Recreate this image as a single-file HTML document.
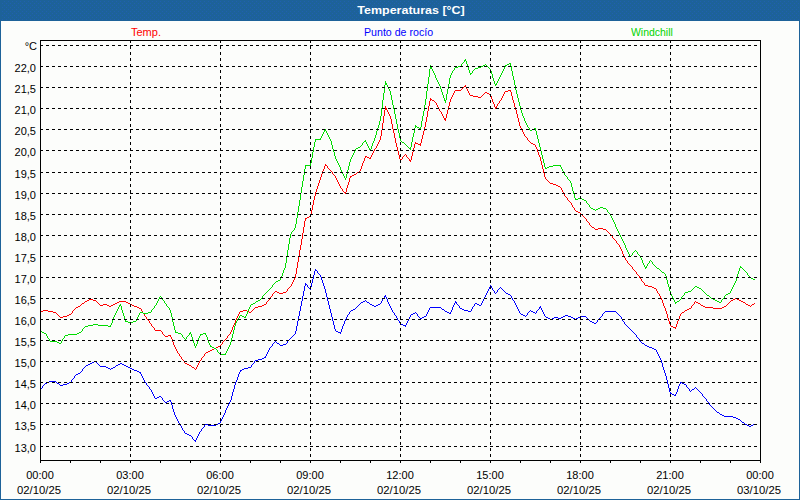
<!DOCTYPE html>
<html><head><meta charset="utf-8"><title>Temperaturas</title>
<style>
html,body{margin:0;padding:0;background:#fff;overflow:hidden;}
body{width:800px;height:500px;overflow:hidden;position:relative;font-family:"Liberation Sans",sans-serif;}
#frame{position:absolute;left:0;top:0;width:800px;height:500px;box-sizing:border-box;background:#fcfdfb;}
#hdr{position:absolute;left:0;top:0;width:800px;height:21px;background:#1d6299;}
#bl{position:absolute;left:0;top:0;width:1px;height:500px;background:#1d6299;}
#br{position:absolute;right:0;top:0;width:1px;height:500px;background:#1d6299;}
#bb{position:absolute;left:0;bottom:0;width:800px;height:1px;background:#1d6299;}
#title{position:absolute;left:111px;top:4px;width:600px;text-align:center;transform:scaleX(1.135);transform-origin:300px 0;color:#fff;font-weight:bold;font-size:11px;line-height:13px;white-space:nowrap;}
.lg{position:absolute;top:26px;font-size:11px;line-height:12px;white-space:nowrap;transform-origin:0 0;}
.yl{position:absolute;left:0;width:37px;text-align:right;font-size:11px;line-height:12px;color:#000;white-space:nowrap;}
.xl{position:absolute;width:80px;text-align:center;font-size:11px;line-height:12px;color:#000;white-space:nowrap;}
svg{position:absolute;left:0;top:0;}
</style></head><body>
<div id="frame"></div><div id="hdr"><svg width="800" height="21" shape-rendering="crispEdges"><defs><pattern id="dz" width="4" height="4" patternUnits="userSpaceOnUse"><rect x="0" y="1" width="1" height="1" fill="#2060b0"/><rect x="2" y="3" width="1" height="1" fill="#2060b0"/></pattern></defs><rect width="800" height="21" fill="url(#dz)"/></svg></div><div id="bl"></div><div id="br"></div><div id="bb"></div>
<div id="title">Temperaturas [°C]</div>
<div class="lg" style="left:131px;color:#ff0000">Temp.</div>
<div class="lg" style="left:364px;color:#0000ff;transform:scaleX(0.965)">Punto de rocío</div>
<div class="lg" style="left:631px;color:#00d400;transform:scaleX(0.95)">Windchill</div>
<div class="yl" style="top:40px">°C</div>
<div class="yl" style="top:62px;width:36px">22,0</div>
<div class="yl" style="top:83px;width:36px">21,5</div>
<div class="yl" style="top:104px;width:36px">21,0</div>
<div class="yl" style="top:125px;width:36px">20,5</div>
<div class="yl" style="top:146px;width:36px">20,0</div>
<div class="yl" style="top:168px;width:36px">19,5</div>
<div class="yl" style="top:189px;width:36px">19,0</div>
<div class="yl" style="top:210px;width:36px">18,5</div>
<div class="yl" style="top:231px;width:36px">18,0</div>
<div class="yl" style="top:252px;width:36px">17,5</div>
<div class="yl" style="top:273px;width:36px">17,0</div>
<div class="yl" style="top:294px;width:36px">16,5</div>
<div class="yl" style="top:315px;width:36px">16,0</div>
<div class="yl" style="top:336px;width:36px">15,5</div>
<div class="yl" style="top:357px;width:36px">15,0</div>
<div class="yl" style="top:378px;width:36px">14,5</div>
<div class="yl" style="top:399px;width:36px">14,0</div>
<div class="yl" style="top:420px;width:36px">13,5</div>
<div class="yl" style="top:442px;width:36px">13,0</div>
<div class="xl" style="left:0px;top:469px">00:00</div><div class="xl" style="left:-1px;top:484px;transform:scaleX(1.025)">02/10/25</div>
<div class="xl" style="left:90px;top:469px">03:00</div><div class="xl" style="left:89px;top:484px;transform:scaleX(1.025)">02/10/25</div>
<div class="xl" style="left:180px;top:469px">06:00</div><div class="xl" style="left:179px;top:484px;transform:scaleX(1.025)">02/10/25</div>
<div class="xl" style="left:270px;top:469px">09:00</div><div class="xl" style="left:269px;top:484px;transform:scaleX(1.025)">02/10/25</div>
<div class="xl" style="left:360px;top:469px">12:00</div><div class="xl" style="left:359px;top:484px;transform:scaleX(1.025)">02/10/25</div>
<div class="xl" style="left:450px;top:469px">15:00</div><div class="xl" style="left:449px;top:484px;transform:scaleX(1.025)">02/10/25</div>
<div class="xl" style="left:540px;top:469px">18:00</div><div class="xl" style="left:539px;top:484px;transform:scaleX(1.025)">02/10/25</div>
<div class="xl" style="left:630px;top:469px">21:00</div><div class="xl" style="left:629px;top:484px;transform:scaleX(1.025)">02/10/25</div>
<div class="xl" style="left:720px;top:469px">00:00</div><div class="xl" style="left:719px;top:484px;transform:scaleX(1.025)">03/10/25</div>
<svg width="800" height="500" viewBox="0 0 800 500" shape-rendering="crispEdges">
<path d="M40 311h1v1h-1zM41 311h1v1h-1zM42 311h1v1h-1zM43 310h1v1h-1zM44 310h1v1h-1zM45 310h1v1h-1zM46 310h1v1h-1zM47 310h1v1h-1zM48 311h1v1h-1zM49 311h1v1h-1zM50 311h1v1h-1zM51 311h1v1h-1zM52 311h1v1h-1zM53 312h1v1h-1zM54 312h1v1h-1zM55 312h1v1h-1zM56 313h1v1h-1zM57 314h1v1h-1zM58 315h1v1h-1zM59 316h1v1h-1zM60 317h1v1h-1zM61 317h1v1h-1zM62 317h1v1h-1zM63 316h1v1h-1zM64 316h1v1h-1zM65 316h1v1h-1zM66 316h1v1h-1zM67 315h1v1h-1zM68 315h1v1h-1zM69 314h1v1h-1zM70 314h1v1h-1zM71 313h1v1h-1zM72 311h1v2h-1zM73 310h1v1h-1zM74 309h1v1h-1zM75 308h1v1h-1zM76 307h1v1h-1zM77 307h1v1h-1zM78 306h1v1h-1zM79 306h1v1h-1zM80 305h1v1h-1zM81 304h1v1h-1zM82 303h1v1h-1zM83 303h1v1h-1zM84 302h1v1h-1zM85 301h1v1h-1zM86 301h1v1h-1zM87 300h1v1h-1zM88 300h1v1h-1zM89 299h1v1h-1zM90 299h1v1h-1zM91 299h1v1h-1zM92 299h1v1h-1zM93 300h1v1h-1zM94 300h1v1h-1zM95 300h1v1h-1zM96 301h1v1h-1zM97 302h1v1h-1zM98 303h1v1h-1zM99 304h1v1h-1zM100 305h1v1h-1zM101 305h1v1h-1zM102 305h1v1h-1zM103 304h1v1h-1zM104 304h1v1h-1zM105 304h1v1h-1zM106 304h1v1h-1zM107 305h1v1h-1zM108 305h1v1h-1zM109 306h1v1h-1zM110 306h1v1h-1zM111 305h1v1h-1zM112 305h1v1h-1zM113 304h1v1h-1zM114 304h1v1h-1zM115 303h1v1h-1zM116 303h1v1h-1zM117 302h1v1h-1zM118 302h1v1h-1zM119 301h1v1h-1zM120 301h1v1h-1zM121 301h1v1h-1zM122 301h1v1h-1zM123 301h1v1h-1zM124 301h1v1h-1zM125 301h1v1h-1zM126 302h1v1h-1zM127 302h1v1h-1zM128 303h1v1h-1zM129 303h1v1h-1zM130 304h1v1h-1zM131 304h1v1h-1zM132 305h1v1h-1zM133 305h1v1h-1zM134 306h1v1h-1zM135 306h1v1h-1zM136 306h1v1h-1zM137 307h1v1h-1zM138 307h1v1h-1zM139 308h1v1h-1zM140 308h1v1h-1zM141 309h1v2h-1zM142 311h1v2h-1zM143 313h1v1h-1zM144 314h1v2h-1zM145 316h1v1h-1zM146 317h1v2h-1zM147 319h1v1h-1zM148 320h1v1h-1zM149 321h1v2h-1zM150 323h1v1h-1zM151 324h1v2h-1zM152 326h1v1h-1zM153 327h1v1h-1zM154 328h1v2h-1zM155 330h1v1h-1zM156 330h1v1h-1zM157 330h1v1h-1zM158 330h1v1h-1zM159 330h1v1h-1zM160 330h1v1h-1zM161 331h1v1h-1zM162 332h1v2h-1zM163 334h1v1h-1zM164 335h1v1h-1zM165 336h1v1h-1zM166 336h1v1h-1zM167 336h1v1h-1zM168 335h1v1h-1zM169 335h1v1h-1zM170 335h1v2h-1zM171 337h1v2h-1zM172 339h1v3h-1zM173 342h1v3h-1zM174 345h1v2h-1zM175 347h1v2h-1zM176 349h1v2h-1zM177 351h1v2h-1zM178 353h1v1h-1zM179 354h1v2h-1zM180 356h1v1h-1zM181 357h1v2h-1zM182 359h1v1h-1zM183 360h1v1h-1zM184 361h1v2h-1zM185 363h1v1h-1zM186 363h1v1h-1zM187 364h1v1h-1zM188 364h1v1h-1zM189 365h1v1h-1zM190 365h1v1h-1zM191 366h1v1h-1zM192 367h1v1h-1zM193 367h1v1h-1zM194 368h1v1h-1zM195 369h1v1h-1zM196 367h1v2h-1zM197 365h1v2h-1zM198 363h1v2h-1zM199 361h1v2h-1zM200 360h1v1h-1zM201 358h1v2h-1zM202 357h1v1h-1zM203 356h1v1h-1zM204 354h1v2h-1zM205 353h1v1h-1zM206 352h1v1h-1zM207 352h1v1h-1zM208 351h1v1h-1zM209 351h1v1h-1zM210 350h1v1h-1zM211 350h1v1h-1zM212 349h1v1h-1zM213 349h1v1h-1zM214 348h1v1h-1zM215 348h1v1h-1zM216 347h1v1h-1zM217 347h1v1h-1zM218 346h1v1h-1zM219 346h1v1h-1zM220 345h1v1h-1zM221 344h1v1h-1zM222 342h1v2h-1zM223 341h1v1h-1zM224 340h1v1h-1zM225 339h1v1h-1zM226 338h1v1h-1zM227 336h1v2h-1zM228 335h1v1h-1zM229 334h1v1h-1zM230 332h1v2h-1zM231 330h1v2h-1zM232 327h1v3h-1zM233 325h1v2h-1zM234 323h1v2h-1zM235 320h1v3h-1zM236 318h1v2h-1zM237 316h1v2h-1zM238 314h1v2h-1zM239 312h1v2h-1zM240 311h1v1h-1zM241 311h1v1h-1zM242 311h1v1h-1zM243 310h1v1h-1zM244 310h1v1h-1zM245 310h1v1h-1zM246 310h1v1h-1zM247 311h1v1h-1zM248 311h1v1h-1zM249 312h1v1h-1zM250 312h1v1h-1zM251 311h1v1h-1zM252 310h1v1h-1zM253 309h1v1h-1zM254 308h1v1h-1zM255 307h1v1h-1zM256 307h1v1h-1zM257 307h1v1h-1zM258 306h1v1h-1zM259 306h1v1h-1zM260 306h1v1h-1zM261 306h1v1h-1zM262 305h1v1h-1zM263 305h1v1h-1zM264 304h1v1h-1zM265 304h1v1h-1zM266 302h1v2h-1zM267 301h1v1h-1zM268 300h1v1h-1zM269 298h1v2h-1zM270 297h1v1h-1zM271 296h1v1h-1zM272 294h1v2h-1zM273 293h1v1h-1zM274 292h1v1h-1zM275 291h1v1h-1zM276 291h1v1h-1zM277 292h1v1h-1zM278 292h1v1h-1zM279 293h1v1h-1zM280 293h1v1h-1zM281 293h1v1h-1zM282 293h1v1h-1zM283 292h1v1h-1zM284 292h1v1h-1zM285 292h1v1h-1zM286 291h1v1h-1zM287 289h1v2h-1zM288 288h1v1h-1zM289 287h1v1h-1zM290 286h1v1h-1zM291 284h1v2h-1zM292 282h1v2h-1zM293 280h1v2h-1zM294 278h1v2h-1zM295 274h1v4h-1zM296 268h1v6h-1zM297 262h1v6h-1zM298 256h1v6h-1zM299 250h1v6h-1zM300 245h1v5h-1zM301 239h1v6h-1zM302 233h1v6h-1zM303 227h1v6h-1zM304 221h1v6h-1zM305 218h1v3h-1zM306 218h1v1h-1zM307 217h1v1h-1zM308 217h1v1h-1zM309 216h1v1h-1zM310 214h1v3h-1zM311 210h1v4h-1zM312 205h1v5h-1zM313 200h1v5h-1zM314 196h1v4h-1zM315 192h1v4h-1zM316 189h1v3h-1zM317 186h1v3h-1zM318 183h1v3h-1zM319 180h1v3h-1zM320 177h1v3h-1zM321 174h1v3h-1zM322 171h1v3h-1zM323 169h1v2h-1zM324 166h1v3h-1zM325 164h1v2h-1zM326 165h1v1h-1zM327 166h1v2h-1zM328 168h1v1h-1zM329 169h1v1h-1zM330 170h1v1h-1zM331 171h1v1h-1zM332 172h1v2h-1zM333 174h1v1h-1zM334 175h1v1h-1zM335 176h1v2h-1zM336 178h1v2h-1zM337 180h1v2h-1zM338 182h1v2h-1zM339 184h1v2h-1zM340 186h1v2h-1zM341 188h1v1h-1zM342 189h1v2h-1zM343 191h1v1h-1zM344 192h1v1h-1zM345 192h1v2h-1zM346 188h1v4h-1zM347 185h1v3h-1zM348 182h1v3h-1zM349 178h1v4h-1zM350 176h1v2h-1zM351 176h1v1h-1zM352 175h1v1h-1zM353 175h1v1h-1zM354 174h1v1h-1zM355 174h1v1h-1zM356 173h1v1h-1zM357 172h1v1h-1zM358 172h1v1h-1zM359 171h1v1h-1zM360 169h1v2h-1zM361 166h1v3h-1zM362 163h1v3h-1zM363 161h1v2h-1zM364 158h1v3h-1zM365 156h1v2h-1zM366 156h1v1h-1zM367 157h1v1h-1zM368 157h1v1h-1zM369 158h1v1h-1zM370 157h1v2h-1zM371 155h1v2h-1zM372 153h1v2h-1zM373 151h1v2h-1zM374 149h1v2h-1zM375 148h1v1h-1zM376 146h1v2h-1zM377 144h1v2h-1zM378 142h1v2h-1zM379 140h1v2h-1zM380 136h1v4h-1zM381 130h1v6h-1zM382 123h1v7h-1zM383 116h1v7h-1zM384 110h1v6h-1zM385 106h1v4h-1zM386 108h1v2h-1zM387 110h1v2h-1zM388 112h1v2h-1zM389 114h1v2h-1zM390 116h1v3h-1zM391 119h1v5h-1zM392 124h1v5h-1zM393 129h1v4h-1zM394 133h1v5h-1zM395 138h1v5h-1zM396 143h1v4h-1zM397 147h1v4h-1zM398 151h1v4h-1zM399 155h1v4h-1zM400 159h1v2h-1zM401 159h1v1h-1zM402 157h1v2h-1zM403 156h1v1h-1zM404 155h1v1h-1zM405 154h1v1h-1zM406 155h1v2h-1zM407 157h1v1h-1zM408 158h1v1h-1zM409 159h1v2h-1zM410 160h1v2h-1zM411 156h1v4h-1zM412 152h1v4h-1zM413 148h1v4h-1zM414 144h1v4h-1zM415 142h1v2h-1zM416 143h1v1h-1zM417 143h1v1h-1zM418 144h1v1h-1zM419 144h1v1h-1zM420 143h1v3h-1zM421 139h1v4h-1zM422 135h1v4h-1zM423 131h1v4h-1zM424 127h1v4h-1zM425 122h1v5h-1zM426 117h1v5h-1zM427 111h1v6h-1zM428 106h1v5h-1zM429 101h1v5h-1zM430 98h1v3h-1zM431 99h1v1h-1zM432 100h1v1h-1zM433 100h1v1h-1zM434 101h1v1h-1zM435 102h1v1h-1zM436 103h1v2h-1zM437 105h1v2h-1zM438 107h1v2h-1zM439 109h1v2h-1zM440 111h1v1h-1zM441 112h1v2h-1zM442 114h1v2h-1zM443 116h1v2h-1zM444 118h1v2h-1zM445 118h1v3h-1zM446 114h1v4h-1zM447 110h1v4h-1zM448 106h1v4h-1zM449 102h1v4h-1zM450 99h1v3h-1zM451 97h1v2h-1zM452 95h1v2h-1zM453 93h1v2h-1zM454 91h1v2h-1zM455 90h1v1h-1zM456 90h1v1h-1zM457 90h1v1h-1zM458 90h1v1h-1zM459 90h1v1h-1zM460 90h1v1h-1zM461 89h1v1h-1zM462 88h1v1h-1zM463 87h1v1h-1zM464 86h1v1h-1zM465 85h1v2h-1zM466 87h1v2h-1zM467 89h1v2h-1zM468 91h1v2h-1zM469 93h1v2h-1zM470 95h1v1h-1zM471 95h1v1h-1zM472 95h1v1h-1zM473 96h1v1h-1zM474 96h1v1h-1zM475 96h1v1h-1zM476 96h1v1h-1zM477 96h1v1h-1zM478 97h1v1h-1zM479 97h1v1h-1zM480 97h1v1h-1zM481 96h1v1h-1zM482 95h1v1h-1zM483 94h1v1h-1zM484 93h1v1h-1zM485 92h1v1h-1zM486 92h1v1h-1zM487 93h1v1h-1zM488 93h1v1h-1zM489 94h1v1h-1zM490 94h1v2h-1zM491 96h1v3h-1zM492 99h1v3h-1zM493 102h1v2h-1zM494 104h1v3h-1zM495 107h1v2h-1zM496 106h1v2h-1zM497 104h1v2h-1zM498 103h1v1h-1zM499 101h1v2h-1zM500 100h1v1h-1zM501 98h1v2h-1zM502 96h1v2h-1zM503 94h1v2h-1zM504 92h1v2h-1zM505 91h1v1h-1zM506 91h1v1h-1zM507 91h1v1h-1zM508 90h1v1h-1zM509 90h1v1h-1zM510 90h1v2h-1zM511 92h1v4h-1zM512 96h1v4h-1zM513 100h1v3h-1zM514 103h1v4h-1zM515 107h1v3h-1zM516 110h1v4h-1zM517 114h1v4h-1zM518 118h1v4h-1zM519 122h1v4h-1zM520 126h1v2h-1zM521 128h1v2h-1zM522 130h1v2h-1zM523 132h1v2h-1zM524 134h1v2h-1zM525 136h1v1h-1zM526 137h1v1h-1zM527 138h1v2h-1zM528 140h1v1h-1zM529 141h1v1h-1zM530 142h1v1h-1zM531 143h1v1h-1zM532 143h1v1h-1zM533 144h1v1h-1zM534 144h1v1h-1zM535 145h1v2h-1zM536 147h1v2h-1zM537 149h1v3h-1zM538 152h1v3h-1zM539 155h1v2h-1zM540 157h1v4h-1zM541 161h1v4h-1zM542 165h1v4h-1zM543 169h1v4h-1zM544 173h1v4h-1zM545 177h1v2h-1zM546 179h1v1h-1zM547 180h1v1h-1zM548 181h1v1h-1zM549 182h1v1h-1zM550 183h1v1h-1zM551 183h1v1h-1zM552 183h1v1h-1zM553 184h1v1h-1zM554 184h1v1h-1zM555 184h1v1h-1zM556 185h1v1h-1zM557 185h1v1h-1zM558 186h1v1h-1zM559 186h1v1h-1zM560 187h1v1h-1zM561 188h1v2h-1zM562 190h1v2h-1zM563 192h1v2h-1zM564 194h1v2h-1zM565 196h1v1h-1zM566 197h1v1h-1zM567 198h1v2h-1zM568 200h1v1h-1zM569 201h1v1h-1zM570 202h1v1h-1zM571 203h1v2h-1zM572 205h1v2h-1zM573 207h1v1h-1zM574 208h1v2h-1zM575 210h1v1h-1zM576 211h1v1h-1zM577 211h1v1h-1zM578 212h1v1h-1zM579 212h1v1h-1zM580 213h1v1h-1zM581 214h1v1h-1zM582 215h1v1h-1zM583 216h1v1h-1zM584 217h1v1h-1zM585 218h1v1h-1zM586 219h1v2h-1zM587 221h1v1h-1zM588 222h1v1h-1zM589 223h1v2h-1zM590 225h1v1h-1zM591 226h1v1h-1zM592 227h1v1h-1zM593 227h1v1h-1zM594 228h1v1h-1zM595 229h1v1h-1zM596 229h1v1h-1zM597 229h1v1h-1zM598 228h1v1h-1zM599 228h1v1h-1zM600 228h1v1h-1zM601 228h1v1h-1zM602 228h1v1h-1zM603 229h1v1h-1zM604 229h1v1h-1zM605 229h1v1h-1zM606 230h1v1h-1zM607 231h1v1h-1zM608 232h1v1h-1zM609 233h1v1h-1zM610 234h1v1h-1zM611 235h1v1h-1zM612 236h1v2h-1zM613 238h1v1h-1zM614 239h1v1h-1zM615 240h1v1h-1zM616 241h1v2h-1zM617 243h1v1h-1zM618 244h1v1h-1zM619 245h1v2h-1zM620 247h1v2h-1zM621 249h1v2h-1zM622 251h1v3h-1zM623 254h1v2h-1zM624 256h1v2h-1zM625 258h1v2h-1zM626 260h1v1h-1zM627 261h1v2h-1zM628 263h1v1h-1zM629 264h1v1h-1zM630 265h1v1h-1zM631 266h1v1h-1zM632 267h1v2h-1zM633 269h1v1h-1zM634 270h1v1h-1zM635 271h1v1h-1zM636 272h1v2h-1zM637 274h1v1h-1zM638 275h1v1h-1zM639 276h1v2h-1zM640 278h1v1h-1zM641 279h1v2h-1zM642 281h1v1h-1zM643 282h1v1h-1zM644 283h1v2h-1zM645 285h1v1h-1zM646 285h1v1h-1zM647 285h1v1h-1zM648 286h1v1h-1zM649 286h1v1h-1zM650 286h1v1h-1zM651 286h1v1h-1zM652 287h1v1h-1zM653 287h1v1h-1zM654 288h1v1h-1zM655 288h1v1h-1zM656 289h1v2h-1zM657 291h1v2h-1zM658 293h1v1h-1zM659 294h1v2h-1zM660 296h1v2h-1zM661 298h1v2h-1zM662 300h1v3h-1zM663 303h1v3h-1zM664 306h1v2h-1zM665 308h1v3h-1zM666 311h1v3h-1zM667 314h1v4h-1zM668 318h1v3h-1zM669 321h1v3h-1zM670 324h1v2h-1zM671 326h1v1h-1zM672 326h1v1h-1zM673 327h1v1h-1zM674 327h1v1h-1zM675 327h1v2h-1zM676 324h1v3h-1zM677 321h1v3h-1zM678 319h1v2h-1zM679 316h1v3h-1zM680 314h1v2h-1zM681 313h1v1h-1zM682 312h1v1h-1zM683 312h1v1h-1zM684 311h1v1h-1zM685 310h1v1h-1zM686 310h1v1h-1zM687 309h1v1h-1zM688 309h1v1h-1zM689 308h1v1h-1zM690 308h1v1h-1zM691 306h1v2h-1zM692 305h1v1h-1zM693 304h1v1h-1zM694 302h1v2h-1zM695 301h1v1h-1zM696 302h1v1h-1zM697 302h1v1h-1zM698 303h1v1h-1zM699 303h1v1h-1zM700 304h1v1h-1zM701 305h1v1h-1zM702 305h1v1h-1zM703 306h1v1h-1zM704 306h1v1h-1zM705 307h1v1h-1zM706 307h1v1h-1zM707 307h1v1h-1zM708 307h1v1h-1zM709 307h1v1h-1zM710 307h1v1h-1zM711 307h1v1h-1zM712 307h1v1h-1zM713 308h1v1h-1zM714 308h1v1h-1zM715 308h1v1h-1zM716 308h1v1h-1zM717 308h1v1h-1zM718 308h1v1h-1zM719 308h1v1h-1zM720 308h1v1h-1zM721 308h1v1h-1zM722 307h1v1h-1zM723 307h1v1h-1zM724 306h1v1h-1zM725 306h1v1h-1zM726 305h1v1h-1zM727 304h1v1h-1zM728 303h1v1h-1zM729 302h1v1h-1zM730 301h1v1h-1zM731 300h1v1h-1zM732 300h1v1h-1zM733 299h1v1h-1zM734 299h1v1h-1zM735 298h1v1h-1zM736 298h1v1h-1zM737 299h1v1h-1zM738 299h1v1h-1zM739 300h1v1h-1zM740 300h1v1h-1zM741 301h1v1h-1zM742 301h1v1h-1zM743 302h1v1h-1zM744 302h1v1h-1zM745 303h1v1h-1zM746 304h1v1h-1zM747 304h1v1h-1zM748 305h1v1h-1zM749 305h1v1h-1zM750 306h1v1h-1zM751 305h1v1h-1zM752 304h1v1h-1zM753 304h1v1h-1zM754 303h1v1h-1z" fill="#ff0000"/>
<path d="M40 389h1v1h-1zM41 388h1v1h-1zM42 386h1v2h-1zM43 385h1v1h-1zM44 384h1v1h-1zM45 383h1v1h-1zM46 383h1v1h-1zM47 382h1v1h-1zM48 382h1v1h-1zM49 381h1v1h-1zM50 381h1v1h-1zM51 381h1v1h-1zM52 381h1v1h-1zM53 381h1v1h-1zM54 381h1v1h-1zM55 381h1v1h-1zM56 382h1v1h-1zM57 383h1v1h-1zM58 383h1v1h-1zM59 384h1v1h-1zM60 385h1v1h-1zM61 385h1v1h-1zM62 385h1v1h-1zM63 384h1v1h-1zM64 384h1v1h-1zM65 384h1v1h-1zM66 384h1v1h-1zM67 383h1v1h-1zM68 383h1v1h-1zM69 382h1v1h-1zM70 382h1v1h-1zM71 380h1v2h-1zM72 379h1v1h-1zM73 378h1v1h-1zM74 376h1v2h-1zM75 375h1v1h-1zM76 374h1v1h-1zM77 374h1v1h-1zM78 373h1v1h-1zM79 373h1v1h-1zM80 372h1v1h-1zM81 371h1v1h-1zM82 369h1v2h-1zM83 368h1v1h-1zM84 367h1v1h-1zM85 366h1v1h-1zM86 365h1v1h-1zM87 365h1v1h-1zM88 364h1v1h-1zM89 364h1v1h-1zM90 363h1v1h-1zM91 363h1v1h-1zM92 362h1v1h-1zM93 362h1v1h-1zM94 361h1v1h-1zM95 361h1v1h-1zM96 362h1v1h-1zM97 363h1v1h-1zM98 364h1v1h-1zM99 365h1v1h-1zM100 366h1v1h-1zM101 366h1v1h-1zM102 366h1v1h-1zM103 366h1v1h-1zM104 366h1v1h-1zM105 366h1v1h-1zM106 367h1v1h-1zM107 367h1v1h-1zM108 368h1v1h-1zM109 368h1v1h-1zM110 369h1v1h-1zM111 368h1v1h-1zM112 368h1v1h-1zM113 367h1v1h-1zM114 367h1v1h-1zM115 366h1v1h-1zM116 365h1v1h-1zM117 365h1v1h-1zM118 364h1v1h-1zM119 364h1v1h-1zM120 363h1v1h-1zM121 363h1v1h-1zM122 364h1v1h-1zM123 364h1v1h-1zM124 365h1v1h-1zM125 365h1v1h-1zM126 366h1v1h-1zM127 366h1v1h-1zM128 367h1v1h-1zM129 367h1v1h-1zM130 368h1v1h-1zM131 368h1v1h-1zM132 369h1v1h-1zM133 369h1v1h-1zM134 370h1v1h-1zM135 370h1v1h-1zM136 370h1v1h-1zM137 371h1v1h-1zM138 371h1v1h-1zM139 372h1v1h-1zM140 372h1v2h-1zM141 374h1v2h-1zM142 376h1v2h-1zM143 378h1v2h-1zM144 380h1v2h-1zM145 382h1v1h-1zM146 383h1v2h-1zM147 385h1v1h-1zM148 386h1v1h-1zM149 387h1v2h-1zM150 389h1v1h-1zM151 390h1v2h-1zM152 392h1v2h-1zM153 394h1v2h-1zM154 396h1v2h-1zM155 398h1v1h-1zM156 398h1v1h-1zM157 397h1v1h-1zM158 397h1v1h-1zM159 396h1v1h-1zM160 396h1v1h-1zM161 397h1v1h-1zM162 398h1v2h-1zM163 400h1v1h-1zM164 401h1v1h-1zM165 402h1v1h-1zM166 402h1v1h-1zM167 401h1v1h-1zM168 401h1v1h-1zM169 400h1v1h-1zM170 400h1v2h-1zM171 402h1v3h-1zM172 405h1v4h-1zM173 409h1v3h-1zM174 412h1v3h-1zM175 415h1v2h-1zM176 417h1v2h-1zM177 419h1v2h-1zM178 421h1v2h-1zM179 423h1v2h-1zM180 425h1v1h-1zM181 426h1v2h-1zM182 428h1v2h-1zM183 430h1v1h-1zM184 431h1v2h-1zM185 433h1v1h-1zM186 433h1v1h-1zM187 434h1v1h-1zM188 434h1v1h-1zM189 435h1v1h-1zM190 435h1v1h-1zM191 436h1v1h-1zM192 437h1v2h-1zM193 439h1v1h-1zM194 440h1v1h-1zM195 440h1v2h-1zM196 438h1v2h-1zM197 436h1v2h-1zM198 434h1v2h-1zM199 432h1v2h-1zM200 431h1v1h-1zM201 429h1v2h-1zM202 428h1v1h-1zM203 427h1v1h-1zM204 425h1v2h-1zM205 424h1v1h-1zM206 424h1v1h-1zM207 424h1v1h-1zM208 425h1v1h-1zM209 425h1v1h-1zM210 425h1v1h-1zM211 425h1v1h-1zM212 425h1v1h-1zM213 425h1v1h-1zM214 425h1v1h-1zM215 425h1v1h-1zM216 424h1v1h-1zM217 424h1v1h-1zM218 423h1v1h-1zM219 423h1v1h-1zM220 421h1v2h-1zM221 419h1v2h-1zM222 417h1v2h-1zM223 415h1v2h-1zM224 413h1v2h-1zM225 410h1v3h-1zM226 408h1v2h-1zM227 406h1v2h-1zM228 404h1v2h-1zM229 402h1v2h-1zM230 400h1v2h-1zM231 396h1v4h-1zM232 392h1v4h-1zM233 389h1v3h-1zM234 385h1v4h-1zM235 382h1v3h-1zM236 380h1v2h-1zM237 377h1v3h-1zM238 374h1v3h-1zM239 372h1v2h-1zM240 370h1v2h-1zM241 370h1v1h-1zM242 369h1v1h-1zM243 369h1v1h-1zM244 368h1v1h-1zM245 368h1v1h-1zM246 368h1v1h-1zM247 368h1v1h-1zM248 367h1v1h-1zM249 367h1v1h-1zM250 367h1v1h-1zM251 365h1v2h-1zM252 364h1v1h-1zM253 363h1v1h-1zM254 361h1v2h-1zM255 360h1v1h-1zM256 360h1v1h-1zM257 360h1v1h-1zM258 359h1v1h-1zM259 359h1v1h-1zM260 359h1v1h-1zM261 359h1v1h-1zM262 358h1v1h-1zM263 358h1v1h-1zM264 357h1v1h-1zM265 356h1v2h-1zM266 354h1v2h-1zM267 352h1v2h-1zM268 350h1v2h-1zM269 348h1v2h-1zM270 347h1v1h-1zM271 346h1v1h-1zM272 344h1v2h-1zM273 343h1v1h-1zM274 342h1v1h-1zM275 341h1v1h-1zM276 342h1v1h-1zM277 343h1v1h-1zM278 343h1v1h-1zM279 344h1v1h-1zM280 345h1v1h-1zM281 345h1v1h-1zM282 345h1v1h-1zM283 344h1v1h-1zM284 344h1v1h-1zM285 344h1v1h-1zM286 343h1v1h-1zM287 341h1v2h-1zM288 340h1v1h-1zM289 339h1v1h-1zM290 338h1v1h-1zM291 337h1v1h-1zM292 336h1v1h-1zM293 335h1v1h-1zM294 334h1v1h-1zM295 331h1v3h-1zM296 326h1v5h-1zM297 321h1v5h-1zM298 316h1v5h-1zM299 311h1v5h-1zM300 306h1v5h-1zM301 301h1v5h-1zM302 296h1v5h-1zM303 291h1v5h-1zM304 286h1v5h-1zM305 283h1v3h-1zM306 284h1v1h-1zM307 285h1v2h-1zM308 287h1v1h-1zM309 288h1v1h-1zM310 287h1v3h-1zM311 283h1v4h-1zM312 279h1v4h-1zM313 275h1v4h-1zM314 271h1v4h-1zM315 269h1v2h-1zM316 270h1v1h-1zM317 271h1v2h-1zM318 273h1v1h-1zM319 274h1v1h-1zM320 275h1v2h-1zM321 277h1v3h-1zM322 280h1v3h-1zM323 283h1v3h-1zM324 286h1v3h-1zM325 289h1v4h-1zM326 293h1v4h-1zM327 297h1v4h-1zM328 301h1v4h-1zM329 305h1v4h-1zM330 309h1v4h-1zM331 313h1v4h-1zM332 317h1v4h-1zM333 321h1v4h-1zM334 325h1v4h-1zM335 329h1v2h-1zM336 331h1v1h-1zM337 331h1v1h-1zM338 332h1v1h-1zM339 332h1v1h-1zM340 332h1v2h-1zM341 329h1v3h-1zM342 326h1v3h-1zM343 324h1v2h-1zM344 321h1v3h-1zM345 319h1v2h-1zM346 317h1v2h-1zM347 315h1v2h-1zM348 314h1v1h-1zM349 312h1v2h-1zM350 311h1v1h-1zM351 310h1v1h-1zM352 310h1v1h-1zM353 309h1v1h-1zM354 309h1v1h-1zM355 308h1v1h-1zM356 307h1v1h-1zM357 306h1v1h-1zM358 305h1v1h-1zM359 304h1v1h-1zM360 303h1v1h-1zM361 302h1v1h-1zM362 302h1v1h-1zM363 301h1v1h-1zM364 301h1v1h-1zM365 300h1v1h-1zM366 301h1v1h-1zM367 302h1v1h-1zM368 302h1v1h-1zM369 303h1v1h-1zM370 304h1v1h-1zM371 304h1v1h-1zM372 305h1v1h-1zM373 305h1v1h-1zM374 306h1v1h-1zM375 306h1v1h-1zM376 305h1v1h-1zM377 305h1v1h-1zM378 304h1v1h-1zM379 304h1v1h-1zM380 303h1v1h-1zM381 301h1v2h-1zM382 299h1v2h-1zM383 298h1v1h-1zM384 296h1v2h-1zM385 295h1v2h-1zM386 297h1v2h-1zM387 299h1v3h-1zM388 302h1v2h-1zM389 304h1v2h-1zM390 306h1v2h-1zM391 308h1v2h-1zM392 310h1v2h-1zM393 312h1v1h-1zM394 313h1v2h-1zM395 315h1v1h-1zM396 316h1v2h-1zM397 318h1v2h-1zM398 320h1v1h-1zM399 321h1v2h-1zM400 323h1v1h-1zM401 324h1v1h-1zM402 324h1v1h-1zM403 325h1v1h-1zM404 325h1v1h-1zM405 325h1v2h-1zM406 323h1v2h-1zM407 321h1v2h-1zM408 319h1v2h-1zM409 317h1v2h-1zM410 315h1v2h-1zM411 314h1v1h-1zM412 314h1v1h-1zM413 313h1v1h-1zM414 313h1v1h-1zM415 312h1v1h-1zM416 313h1v1h-1zM417 314h1v2h-1zM418 316h1v1h-1zM419 317h1v1h-1zM420 318h1v1h-1zM421 318h1v1h-1zM422 317h1v1h-1zM423 317h1v1h-1zM424 316h1v1h-1zM425 316h1v1h-1zM426 314h1v2h-1zM427 312h1v2h-1zM428 310h1v2h-1zM429 308h1v2h-1zM430 307h1v1h-1zM431 307h1v1h-1zM432 307h1v1h-1zM433 307h1v1h-1zM434 307h1v1h-1zM435 307h1v1h-1zM436 307h1v1h-1zM437 307h1v1h-1zM438 307h1v1h-1zM439 307h1v1h-1zM440 307h1v1h-1zM441 308h1v1h-1zM442 309h1v1h-1zM443 309h1v1h-1zM444 310h1v1h-1zM445 311h1v1h-1zM446 311h1v1h-1zM447 312h1v1h-1zM448 312h1v1h-1zM449 313h1v1h-1zM450 312h1v2h-1zM451 310h1v2h-1zM452 307h1v3h-1zM453 305h1v2h-1zM454 303h1v2h-1zM455 301h1v2h-1zM456 302h1v2h-1zM457 304h1v1h-1zM458 305h1v1h-1zM459 306h1v2h-1zM460 308h1v1h-1zM461 308h1v1h-1zM462 309h1v1h-1zM463 309h1v1h-1zM464 310h1v1h-1zM465 310h1v1h-1zM466 310h1v1h-1zM467 310h1v1h-1zM468 311h1v1h-1zM469 311h1v1h-1zM470 311h1v1h-1zM471 309h1v2h-1zM472 307h1v2h-1zM473 306h1v1h-1zM474 304h1v2h-1zM475 303h1v1h-1zM476 303h1v1h-1zM477 304h1v1h-1zM478 304h1v1h-1zM479 305h1v1h-1zM480 305h1v1h-1zM481 303h1v2h-1zM482 301h1v2h-1zM483 299h1v2h-1zM484 297h1v2h-1zM485 295h1v2h-1zM486 293h1v2h-1zM487 291h1v2h-1zM488 289h1v2h-1zM489 287h1v2h-1zM490 285h1v2h-1zM491 286h1v2h-1zM492 288h1v2h-1zM493 290h1v1h-1zM494 291h1v2h-1zM495 293h1v1h-1zM496 292h1v1h-1zM497 290h1v2h-1zM498 289h1v1h-1zM499 288h1v1h-1zM500 287h1v1h-1zM501 288h1v1h-1zM502 289h1v1h-1zM503 290h1v1h-1zM504 291h1v1h-1zM505 292h1v1h-1zM506 293h1v1h-1zM507 293h1v1h-1zM508 294h1v1h-1zM509 294h1v1h-1zM510 295h1v1h-1zM511 296h1v2h-1zM512 298h1v2h-1zM513 300h1v1h-1zM514 301h1v2h-1zM515 303h1v2h-1zM516 305h1v2h-1zM517 307h1v2h-1zM518 309h1v2h-1zM519 311h1v2h-1zM520 313h1v1h-1zM521 314h1v1h-1zM522 314h1v1h-1zM523 315h1v1h-1zM524 315h1v1h-1zM525 316h1v1h-1zM526 315h1v1h-1zM527 313h1v2h-1zM528 312h1v1h-1zM529 311h1v1h-1zM530 310h1v1h-1zM531 311h1v1h-1zM532 311h1v1h-1zM533 312h1v1h-1zM534 312h1v1h-1zM535 313h1v1h-1zM536 311h1v2h-1zM537 310h1v1h-1zM538 309h1v1h-1zM539 307h1v2h-1zM540 306h1v2h-1zM541 308h1v2h-1zM542 310h1v2h-1zM543 312h1v2h-1zM544 314h1v2h-1zM545 316h1v1h-1zM546 317h1v1h-1zM547 317h1v1h-1zM548 318h1v1h-1zM549 318h1v1h-1zM550 319h1v1h-1zM551 319h1v1h-1zM552 318h1v1h-1zM553 318h1v1h-1zM554 317h1v1h-1zM555 317h1v1h-1zM556 317h1v1h-1zM557 317h1v1h-1zM558 318h1v1h-1zM559 318h1v1h-1zM560 318h1v1h-1zM561 317h1v1h-1zM562 317h1v1h-1zM563 316h1v1h-1zM564 316h1v1h-1zM565 315h1v1h-1zM566 315h1v1h-1zM567 315h1v1h-1zM568 316h1v1h-1zM569 316h1v1h-1zM570 316h1v1h-1zM571 317h1v1h-1zM572 317h1v1h-1zM573 318h1v1h-1zM574 318h1v1h-1zM575 319h1v1h-1zM576 318h1v1h-1zM577 318h1v1h-1zM578 317h1v1h-1zM579 317h1v1h-1zM580 316h1v1h-1zM581 316h1v1h-1zM582 316h1v1h-1zM583 316h1v1h-1zM584 316h1v1h-1zM585 316h1v1h-1zM586 317h1v1h-1zM587 318h1v1h-1zM588 319h1v1h-1zM589 320h1v1h-1zM590 321h1v1h-1zM591 321h1v1h-1zM592 322h1v1h-1zM593 322h1v1h-1zM594 323h1v1h-1zM595 323h1v1h-1zM596 322h1v1h-1zM597 320h1v2h-1zM598 319h1v1h-1zM599 318h1v1h-1zM600 317h1v1h-1zM601 316h1v1h-1zM602 314h1v2h-1zM603 313h1v1h-1zM604 312h1v1h-1zM605 311h1v1h-1zM606 311h1v1h-1zM607 311h1v1h-1zM608 311h1v1h-1zM609 311h1v1h-1zM610 311h1v1h-1zM611 311h1v1h-1zM612 311h1v1h-1zM613 311h1v1h-1zM614 311h1v1h-1zM615 311h1v1h-1zM616 312h1v1h-1zM617 313h1v1h-1zM618 314h1v1h-1zM619 315h1v1h-1zM620 316h1v1h-1zM621 317h1v2h-1zM622 319h1v2h-1zM623 321h1v1h-1zM624 322h1v2h-1zM625 324h1v1h-1zM626 325h1v1h-1zM627 326h1v1h-1zM628 327h1v1h-1zM629 328h1v1h-1zM630 329h1v1h-1zM631 330h1v1h-1zM632 331h1v1h-1zM633 332h1v1h-1zM634 333h1v1h-1zM635 334h1v1h-1zM636 335h1v2h-1zM637 337h1v1h-1zM638 338h1v1h-1zM639 339h1v2h-1zM640 341h1v1h-1zM641 342h1v1h-1zM642 343h1v1h-1zM643 343h1v1h-1zM644 344h1v1h-1zM645 345h1v1h-1zM646 345h1v1h-1zM647 346h1v1h-1zM648 346h1v1h-1zM649 347h1v1h-1zM650 347h1v1h-1zM651 347h1v1h-1zM652 348h1v1h-1zM653 348h1v1h-1zM654 349h1v1h-1zM655 349h1v1h-1zM656 350h1v2h-1zM657 352h1v2h-1zM658 354h1v2h-1zM659 356h1v2h-1zM660 358h1v2h-1zM661 360h1v3h-1zM662 363h1v4h-1zM663 367h1v3h-1zM664 370h1v3h-1zM665 373h1v3h-1zM666 376h1v4h-1zM667 380h1v4h-1zM668 384h1v4h-1zM669 388h1v4h-1zM670 392h1v2h-1zM671 393h1v1h-1zM672 394h1v1h-1zM673 394h1v1h-1zM674 395h1v1h-1zM675 394h1v2h-1zM676 392h1v2h-1zM677 389h1v3h-1zM678 386h1v3h-1zM679 384h1v2h-1zM680 382h1v2h-1zM681 382h1v1h-1zM682 383h1v1h-1zM683 383h1v1h-1zM684 384h1v1h-1zM685 384h1v1h-1zM686 385h1v2h-1zM687 387h1v1h-1zM688 388h1v1h-1zM689 389h1v2h-1zM690 391h1v1h-1zM691 390h1v1h-1zM692 389h1v1h-1zM693 389h1v1h-1zM694 388h1v1h-1zM695 387h1v1h-1zM696 388h1v1h-1zM697 389h1v1h-1zM698 390h1v1h-1zM699 391h1v1h-1zM700 392h1v1h-1zM701 393h1v1h-1zM702 394h1v2h-1zM703 396h1v1h-1zM704 397h1v1h-1zM705 398h1v1h-1zM706 399h1v2h-1zM707 401h1v1h-1zM708 402h1v1h-1zM709 403h1v2h-1zM710 405h1v1h-1zM711 406h1v1h-1zM712 407h1v1h-1zM713 408h1v1h-1zM714 409h1v1h-1zM715 410h1v1h-1zM716 411h1v1h-1zM717 412h1v1h-1zM718 412h1v1h-1zM719 413h1v1h-1zM720 414h1v1h-1zM721 414h1v1h-1zM722 415h1v1h-1zM723 415h1v1h-1zM724 416h1v1h-1zM725 416h1v1h-1zM726 416h1v1h-1zM727 416h1v1h-1zM728 416h1v1h-1zM729 416h1v1h-1zM730 416h1v1h-1zM731 416h1v1h-1zM732 416h1v1h-1zM733 417h1v1h-1zM734 417h1v1h-1zM735 417h1v1h-1zM736 418h1v1h-1zM737 418h1v1h-1zM738 419h1v1h-1zM739 419h1v1h-1zM740 420h1v1h-1zM741 421h1v1h-1zM742 422h1v1h-1zM743 422h1v1h-1zM744 423h1v1h-1zM745 424h1v1h-1zM746 424h1v1h-1zM747 425h1v1h-1zM748 425h1v1h-1zM749 426h1v1h-1zM750 426h1v1h-1zM751 425h1v1h-1zM752 425h1v1h-1zM753 424h1v1h-1zM754 424h1v1h-1z" fill="#0000ff"/>
<path d="M40 331h1v1h-1zM41 331h1v1h-1zM42 332h1v1h-1zM43 332h1v1h-1zM44 333h1v1h-1zM45 333h1v1h-1zM46 334h1v2h-1zM47 336h1v2h-1zM48 338h1v1h-1zM49 339h1v2h-1zM50 341h1v1h-1zM51 341h1v1h-1zM52 341h1v1h-1zM53 341h1v1h-1zM54 341h1v1h-1zM55 341h1v1h-1zM56 341h1v1h-1zM57 342h1v1h-1zM58 342h1v1h-1zM59 343h1v1h-1zM60 343h1v1h-1zM61 341h1v2h-1zM62 339h1v2h-1zM63 338h1v1h-1zM64 336h1v2h-1zM65 335h1v1h-1zM66 335h1v1h-1zM67 335h1v1h-1zM68 334h1v1h-1zM69 334h1v1h-1zM70 334h1v1h-1zM71 334h1v1h-1zM72 334h1v1h-1zM73 334h1v1h-1zM74 334h1v1h-1zM75 334h1v1h-1zM76 334h1v1h-1zM77 333h1v1h-1zM78 333h1v1h-1zM79 332h1v1h-1zM80 332h1v1h-1zM81 331h1v1h-1zM82 329h1v2h-1zM83 328h1v1h-1zM84 327h1v1h-1zM85 326h1v1h-1zM86 326h1v1h-1zM87 326h1v1h-1zM88 325h1v1h-1zM89 325h1v1h-1zM90 325h1v1h-1zM91 325h1v1h-1zM92 325h1v1h-1zM93 324h1v1h-1zM94 324h1v1h-1zM95 324h1v1h-1zM96 324h1v1h-1zM97 324h1v1h-1zM98 325h1v1h-1zM99 325h1v1h-1zM100 325h1v1h-1zM101 325h1v1h-1zM102 325h1v1h-1zM103 325h1v1h-1zM104 325h1v1h-1zM105 325h1v1h-1zM106 325h1v1h-1zM107 325h1v1h-1zM108 326h1v1h-1zM109 326h1v1h-1zM110 325h1v2h-1zM111 323h1v2h-1zM112 320h1v3h-1zM113 317h1v3h-1zM114 315h1v2h-1zM115 313h1v2h-1zM116 311h1v2h-1zM117 309h1v2h-1zM118 307h1v2h-1zM119 305h1v2h-1zM120 304h1v2h-1zM121 306h1v4h-1zM122 310h1v3h-1zM123 313h1v3h-1zM124 316h1v4h-1zM125 320h1v2h-1zM126 321h1v1h-1zM127 321h1v1h-1zM128 322h1v1h-1zM129 322h1v1h-1zM130 322h1v1h-1zM131 322h1v1h-1zM132 322h1v1h-1zM133 321h1v1h-1zM134 321h1v1h-1zM135 321h1v1h-1zM136 319h1v2h-1zM137 317h1v2h-1zM138 315h1v2h-1zM139 313h1v2h-1zM140 312h1v1h-1zM141 312h1v1h-1zM142 312h1v1h-1zM143 313h1v1h-1zM144 313h1v1h-1zM145 313h1v1h-1zM146 313h1v1h-1zM147 313h1v1h-1zM148 312h1v1h-1zM149 312h1v1h-1zM150 312h1v1h-1zM151 310h1v2h-1zM152 309h1v1h-1zM153 308h1v1h-1zM154 306h1v2h-1zM155 305h1v1h-1zM156 303h1v2h-1zM157 301h1v2h-1zM158 299h1v2h-1zM159 297h1v2h-1zM160 296h1v1h-1zM161 297h1v2h-1zM162 299h1v1h-1zM163 300h1v1h-1zM164 301h1v2h-1zM165 303h1v1h-1zM166 304h1v2h-1zM167 306h1v1h-1zM168 307h1v1h-1zM169 308h1v2h-1zM170 310h1v3h-1zM171 313h1v4h-1zM172 317h1v5h-1zM173 322h1v4h-1zM174 326h1v4h-1zM175 330h1v3h-1zM176 332h1v1h-1zM177 332h1v1h-1zM178 333h1v1h-1zM179 333h1v1h-1zM180 333h1v1h-1zM181 334h1v1h-1zM182 335h1v2h-1zM183 337h1v1h-1zM184 338h1v1h-1zM185 339h1v1h-1zM186 337h1v2h-1zM187 336h1v1h-1zM188 335h1v1h-1zM189 333h1v2h-1zM190 332h1v2h-1zM191 334h1v3h-1zM192 337h1v3h-1zM193 340h1v3h-1zM194 343h1v3h-1zM195 346h1v2h-1zM196 344h1v2h-1zM197 341h1v3h-1zM198 338h1v3h-1zM199 336h1v2h-1zM200 334h1v2h-1zM201 334h1v1h-1zM202 334h1v1h-1zM203 333h1v1h-1zM204 333h1v1h-1zM205 333h1v2h-1zM206 335h1v2h-1zM207 337h1v3h-1zM208 340h1v3h-1zM209 343h1v2h-1zM210 345h1v2h-1zM211 346h1v1h-1zM212 347h1v1h-1zM213 347h1v1h-1zM214 348h1v1h-1zM215 348h1v1h-1zM216 349h1v1h-1zM217 350h1v2h-1zM218 352h1v1h-1zM219 353h1v1h-1zM220 354h1v1h-1zM221 354h1v1h-1zM222 354h1v1h-1zM223 354h1v1h-1zM224 354h1v1h-1zM225 353h1v2h-1zM226 351h1v2h-1zM227 349h1v2h-1zM228 347h1v2h-1zM229 345h1v2h-1zM230 342h1v3h-1zM231 338h1v4h-1zM232 334h1v4h-1zM233 330h1v4h-1zM234 326h1v4h-1zM235 323h1v3h-1zM236 321h1v2h-1zM237 319h1v2h-1zM238 318h1v1h-1zM239 316h1v2h-1zM240 315h1v1h-1zM241 315h1v1h-1zM242 316h1v1h-1zM243 316h1v1h-1zM244 317h1v1h-1zM245 316h1v2h-1zM246 314h1v2h-1zM247 311h1v3h-1zM248 309h1v2h-1zM249 307h1v2h-1zM250 305h1v2h-1zM251 304h1v1h-1zM252 304h1v1h-1zM253 303h1v1h-1zM254 303h1v1h-1zM255 302h1v1h-1zM256 301h1v1h-1zM257 301h1v1h-1zM258 300h1v1h-1zM259 300h1v1h-1zM260 299h1v1h-1zM261 298h1v1h-1zM262 296h1v2h-1zM263 295h1v1h-1zM264 294h1v1h-1zM265 293h1v1h-1zM266 292h1v1h-1zM267 291h1v1h-1zM268 290h1v1h-1zM269 289h1v1h-1zM270 288h1v1h-1zM271 287h1v1h-1zM272 285h1v2h-1zM273 284h1v1h-1zM274 283h1v1h-1zM275 282h1v1h-1zM276 281h1v1h-1zM277 281h1v1h-1zM278 280h1v1h-1zM279 280h1v1h-1zM280 278h1v2h-1zM281 276h1v2h-1zM282 273h1v3h-1zM283 270h1v3h-1zM284 268h1v2h-1zM285 263h1v5h-1zM286 257h1v6h-1zM287 250h1v7h-1zM288 244h1v6h-1zM289 238h1v6h-1zM290 234h1v4h-1zM291 232h1v2h-1zM292 231h1v1h-1zM293 230h1v1h-1zM294 228h1v2h-1zM295 224h1v4h-1zM296 218h1v6h-1zM297 212h1v6h-1zM298 206h1v6h-1zM299 200h1v6h-1zM300 193h1v7h-1zM301 187h1v6h-1zM302 181h1v6h-1zM303 175h1v6h-1zM304 169h1v6h-1zM305 165h1v4h-1zM306 165h1v1h-1zM307 165h1v1h-1zM308 165h1v1h-1zM309 165h1v1h-1zM310 163h1v3h-1zM311 158h1v5h-1zM312 152h1v6h-1zM313 147h1v5h-1zM314 142h1v5h-1zM315 139h1v3h-1zM316 139h1v1h-1zM317 139h1v1h-1zM318 139h1v1h-1zM319 139h1v1h-1zM320 138h1v2h-1zM321 136h1v2h-1zM322 134h1v2h-1zM323 132h1v2h-1zM324 130h1v2h-1zM325 129h1v2h-1zM326 131h1v2h-1zM327 133h1v2h-1zM328 135h1v2h-1zM329 137h1v2h-1zM330 139h1v2h-1zM331 141h1v4h-1zM332 145h1v4h-1zM333 149h1v3h-1zM334 152h1v4h-1zM335 156h1v3h-1zM336 159h1v2h-1zM337 161h1v2h-1zM338 163h1v2h-1zM339 165h1v2h-1zM340 167h1v3h-1zM341 170h1v2h-1zM342 172h1v2h-1zM343 174h1v2h-1zM344 176h1v2h-1zM345 178h1v2h-1zM346 174h1v4h-1zM347 170h1v4h-1zM348 166h1v4h-1zM349 162h1v4h-1zM350 159h1v3h-1zM351 157h1v2h-1zM352 155h1v2h-1zM353 153h1v2h-1zM354 151h1v2h-1zM355 149h1v2h-1zM356 148h1v1h-1zM357 148h1v1h-1zM358 147h1v1h-1zM359 147h1v1h-1zM360 146h1v1h-1zM361 145h1v1h-1zM362 143h1v2h-1zM363 142h1v1h-1zM364 141h1v1h-1zM365 140h1v2h-1zM366 142h1v2h-1zM367 144h1v2h-1zM368 146h1v2h-1zM369 148h1v2h-1zM370 149h1v2h-1zM371 146h1v3h-1zM372 143h1v3h-1zM373 141h1v2h-1zM374 138h1v3h-1zM375 135h1v3h-1zM376 131h1v4h-1zM377 128h1v3h-1zM378 125h1v3h-1zM379 121h1v4h-1zM380 116h1v5h-1zM381 108h1v8h-1zM382 100h1v8h-1zM383 93h1v7h-1zM384 85h1v8h-1zM385 81h1v4h-1zM386 83h1v2h-1zM387 85h1v2h-1zM388 87h1v2h-1zM389 89h1v2h-1zM390 91h1v4h-1zM391 95h1v5h-1zM392 100h1v5h-1zM393 105h1v4h-1zM394 109h1v5h-1zM395 114h1v5h-1zM396 119h1v5h-1zM397 124h1v5h-1zM398 129h1v4h-1zM399 133h1v5h-1zM400 138h1v3h-1zM401 141h1v1h-1zM402 142h1v1h-1zM403 142h1v1h-1zM404 143h1v1h-1zM405 144h1v1h-1zM406 145h1v1h-1zM407 146h1v1h-1zM408 147h1v1h-1zM409 148h1v1h-1zM410 147h1v3h-1zM411 142h1v5h-1zM412 137h1v5h-1zM413 133h1v4h-1zM414 128h1v5h-1zM415 125h1v3h-1zM416 126h1v1h-1zM417 127h1v1h-1zM418 127h1v1h-1zM419 128h1v1h-1zM420 127h1v3h-1zM421 121h1v6h-1zM422 116h1v5h-1zM423 111h1v5h-1zM424 105h1v6h-1zM425 99h1v6h-1zM426 91h1v8h-1zM427 84h1v7h-1zM428 77h1v7h-1zM429 69h1v8h-1zM430 65h1v4h-1zM431 67h1v2h-1zM432 69h1v2h-1zM433 71h1v2h-1zM434 73h1v2h-1zM435 75h1v3h-1zM436 78h1v2h-1zM437 80h1v2h-1zM438 82h1v2h-1zM439 84h1v2h-1zM440 86h1v3h-1zM441 89h1v3h-1zM442 92h1v3h-1zM443 95h1v3h-1zM444 98h1v3h-1zM445 100h1v3h-1zM446 94h1v6h-1zM447 89h1v5h-1zM448 84h1v5h-1zM449 78h1v6h-1zM450 75h1v3h-1zM451 73h1v2h-1zM452 71h1v2h-1zM453 70h1v1h-1zM454 68h1v2h-1zM455 67h1v1h-1zM456 67h1v1h-1zM457 67h1v1h-1zM458 66h1v1h-1zM459 66h1v1h-1zM460 66h1v1h-1zM461 64h1v2h-1zM462 63h1v1h-1zM463 62h1v1h-1zM464 60h1v2h-1zM465 59h1v2h-1zM466 61h1v3h-1zM467 64h1v3h-1zM468 67h1v3h-1zM469 70h1v3h-1zM470 73h1v2h-1zM471 73h1v1h-1zM472 71h1v2h-1zM473 70h1v1h-1zM474 69h1v1h-1zM475 68h1v1h-1zM476 68h1v1h-1zM477 68h1v1h-1zM478 67h1v1h-1zM479 67h1v1h-1zM480 67h1v1h-1zM481 66h1v1h-1zM482 66h1v1h-1zM483 65h1v1h-1zM484 65h1v1h-1zM485 64h1v1h-1zM486 65h1v1h-1zM487 66h1v1h-1zM488 67h1v1h-1zM489 68h1v1h-1zM490 69h1v2h-1zM491 71h1v3h-1zM492 74h1v4h-1zM493 78h1v3h-1zM494 81h1v3h-1zM495 84h1v2h-1zM496 83h1v2h-1zM497 81h1v2h-1zM498 79h1v2h-1zM499 77h1v2h-1zM500 75h1v2h-1zM501 73h1v2h-1zM502 71h1v2h-1zM503 69h1v2h-1zM504 67h1v2h-1zM505 65h1v2h-1zM506 65h1v1h-1zM507 64h1v1h-1zM508 64h1v1h-1zM509 63h1v1h-1zM510 63h1v3h-1zM511 66h1v5h-1zM512 71h1v5h-1zM513 76h1v4h-1zM514 80h1v5h-1zM515 85h1v5h-1zM516 90h1v4h-1zM517 94h1v4h-1zM518 98h1v4h-1zM519 102h1v4h-1zM520 106h1v4h-1zM521 110h1v3h-1zM522 113h1v3h-1zM523 116h1v2h-1zM524 118h1v3h-1zM525 121h1v2h-1zM526 123h1v2h-1zM527 125h1v2h-1zM528 127h1v1h-1zM529 128h1v2h-1zM530 130h1v1h-1zM531 130h1v1h-1zM532 129h1v1h-1zM533 129h1v1h-1zM534 128h1v1h-1zM535 128h1v3h-1zM536 131h1v4h-1zM537 135h1v4h-1zM538 139h1v4h-1zM539 143h1v4h-1zM540 147h1v4h-1zM541 151h1v4h-1zM542 155h1v4h-1zM543 159h1v4h-1zM544 163h1v4h-1zM545 167h1v2h-1zM546 168h1v1h-1zM547 167h1v1h-1zM548 167h1v1h-1zM549 166h1v1h-1zM550 166h1v1h-1zM551 166h1v1h-1zM552 166h1v1h-1zM553 165h1v1h-1zM554 165h1v1h-1zM555 165h1v1h-1zM556 165h1v1h-1zM557 165h1v1h-1zM558 165h1v1h-1zM559 165h1v1h-1zM560 165h1v2h-1zM561 167h1v2h-1zM562 169h1v2h-1zM563 171h1v2h-1zM564 173h1v2h-1zM565 175h1v1h-1zM566 176h1v1h-1zM567 177h1v2h-1zM568 179h1v1h-1zM569 180h1v1h-1zM570 181h1v2h-1zM571 183h1v4h-1zM572 187h1v4h-1zM573 191h1v3h-1zM574 194h1v4h-1zM575 198h1v2h-1zM576 199h1v1h-1zM577 199h1v1h-1zM578 198h1v1h-1zM579 198h1v1h-1zM580 198h1v1h-1zM581 198h1v1h-1zM582 199h1v1h-1zM583 199h1v1h-1zM584 200h1v1h-1zM585 200h1v1h-1zM586 201h1v2h-1zM587 203h1v1h-1zM588 204h1v1h-1zM589 205h1v2h-1zM590 207h1v1h-1zM591 208h1v1h-1zM592 208h1v1h-1zM593 209h1v1h-1zM594 209h1v1h-1zM595 210h1v1h-1zM596 209h1v1h-1zM597 209h1v1h-1zM598 208h1v1h-1zM599 208h1v1h-1zM600 207h1v1h-1zM601 207h1v1h-1zM602 207h1v1h-1zM603 208h1v1h-1zM604 208h1v1h-1zM605 208h1v1h-1zM606 209h1v1h-1zM607 210h1v2h-1zM608 212h1v1h-1zM609 213h1v1h-1zM610 214h1v2h-1zM611 216h1v2h-1zM612 218h1v2h-1zM613 220h1v2h-1zM614 222h1v2h-1zM615 224h1v3h-1zM616 227h1v2h-1zM617 229h1v2h-1zM618 231h1v2h-1zM619 233h1v2h-1zM620 235h1v2h-1zM621 237h1v2h-1zM622 239h1v2h-1zM623 241h1v2h-1zM624 243h1v2h-1zM625 245h1v3h-1zM626 248h1v2h-1zM627 250h1v2h-1zM628 252h1v2h-1zM629 254h1v2h-1zM630 256h1v1h-1zM631 255h1v1h-1zM632 253h1v2h-1zM633 252h1v1h-1zM634 251h1v1h-1zM635 250h1v1h-1zM636 251h1v1h-1zM637 252h1v2h-1zM638 254h1v1h-1zM639 255h1v1h-1zM640 256h1v2h-1zM641 258h1v2h-1zM642 260h1v3h-1zM643 263h1v2h-1zM644 265h1v2h-1zM645 267h1v2h-1zM646 266h1v2h-1zM647 264h1v2h-1zM648 263h1v1h-1zM649 261h1v2h-1zM650 260h1v1h-1zM651 261h1v1h-1zM652 262h1v2h-1zM653 264h1v1h-1zM654 265h1v1h-1zM655 266h1v1h-1zM656 267h1v1h-1zM657 268h1v1h-1zM658 268h1v1h-1zM659 269h1v1h-1zM660 270h1v1h-1zM661 271h1v1h-1zM662 272h1v1h-1zM663 272h1v1h-1zM664 273h1v1h-1zM665 274h1v2h-1zM666 276h1v4h-1zM667 280h1v4h-1zM668 284h1v3h-1zM669 287h1v4h-1zM670 291h1v3h-1zM671 294h1v2h-1zM672 296h1v2h-1zM673 298h1v2h-1zM674 300h1v2h-1zM675 302h1v2h-1zM676 302h1v1h-1zM677 301h1v1h-1zM678 301h1v1h-1zM679 300h1v1h-1zM680 299h1v1h-1zM681 297h1v2h-1zM682 296h1v1h-1zM683 295h1v1h-1zM684 293h1v2h-1zM685 292h1v1h-1zM686 292h1v1h-1zM687 292h1v1h-1zM688 291h1v1h-1zM689 291h1v1h-1zM690 291h1v1h-1zM691 290h1v1h-1zM692 289h1v1h-1zM693 288h1v1h-1zM694 287h1v1h-1zM695 286h1v1h-1zM696 286h1v1h-1zM697 287h1v1h-1zM698 287h1v1h-1zM699 288h1v1h-1zM700 288h1v1h-1zM701 289h1v1h-1zM702 290h1v1h-1zM703 291h1v1h-1zM704 292h1v1h-1zM705 293h1v1h-1zM706 294h1v1h-1zM707 295h1v1h-1zM708 295h1v1h-1zM709 296h1v1h-1zM710 297h1v1h-1zM711 298h1v1h-1zM712 298h1v1h-1zM713 299h1v1h-1zM714 299h1v1h-1zM715 300h1v1h-1zM716 300h1v1h-1zM717 301h1v1h-1zM718 301h1v1h-1zM719 302h1v1h-1zM720 302h1v1h-1zM721 300h1v2h-1zM722 299h1v1h-1zM723 298h1v1h-1zM724 296h1v2h-1zM725 295h1v1h-1zM726 294h1v1h-1zM727 294h1v1h-1zM728 293h1v1h-1zM729 293h1v1h-1zM730 291h1v2h-1zM731 289h1v2h-1zM732 287h1v2h-1zM733 285h1v2h-1zM734 283h1v2h-1zM735 281h1v2h-1zM736 278h1v3h-1zM737 274h1v4h-1zM738 271h1v3h-1zM739 268h1v3h-1zM740 266h1v2h-1zM741 267h1v1h-1zM742 268h1v1h-1zM743 269h1v1h-1zM744 270h1v1h-1zM745 271h1v1h-1zM746 272h1v1h-1zM747 273h1v2h-1zM748 275h1v1h-1zM749 276h1v1h-1zM750 277h1v1h-1zM751 278h1v1h-1zM752 278h1v1h-1zM753 279h1v1h-1zM754 279h1v1h-1z" fill="#00dc00"/>
<path d="M40 45.5H761M40 66.5H761M40 87.5H761M40 108.5H761M40 129.5H761M40 150.5H761M40 172.5H761M40 193.5H761M40 214.5H761M40 235.5H761M40 256.5H761M40 277.5H761M40 298.5H761M40 319.5H761M40 340.5H761M40 361.5H761M40 382.5H761M40 403.5H761M40 424.5H761M40 446.5H761M130.5 40V461M220.5 40V461M310.5 40V461M400.5 40V461M490.5 40V461M580.5 40V461M670.5 40V461" stroke="#000" stroke-width="1" stroke-dasharray="3 3" fill="none"/>
<path d="M40.5 40.5H760.5V460.5H40.5Z" stroke="#000" stroke-width="1" fill="none"/>
<path d="M40.5 461V463M70.5 461V463M100.5 461V463M130.5 461V463M160.5 461V463M190.5 461V463M220.5 461V463M250.5 461V463M280.5 461V463M310.5 461V463M340.5 461V463M370.5 461V463M400.5 461V463M430.5 461V463M460.5 461V463M490.5 461V463M520.5 461V463M550.5 461V463M580.5 461V463M610.5 461V463M640.5 461V463M670.5 461V463M700.5 461V463M730.5 461V463M760.5 461V463" stroke="#000" stroke-width="1" fill="none"/>
</svg>
</body></html>
